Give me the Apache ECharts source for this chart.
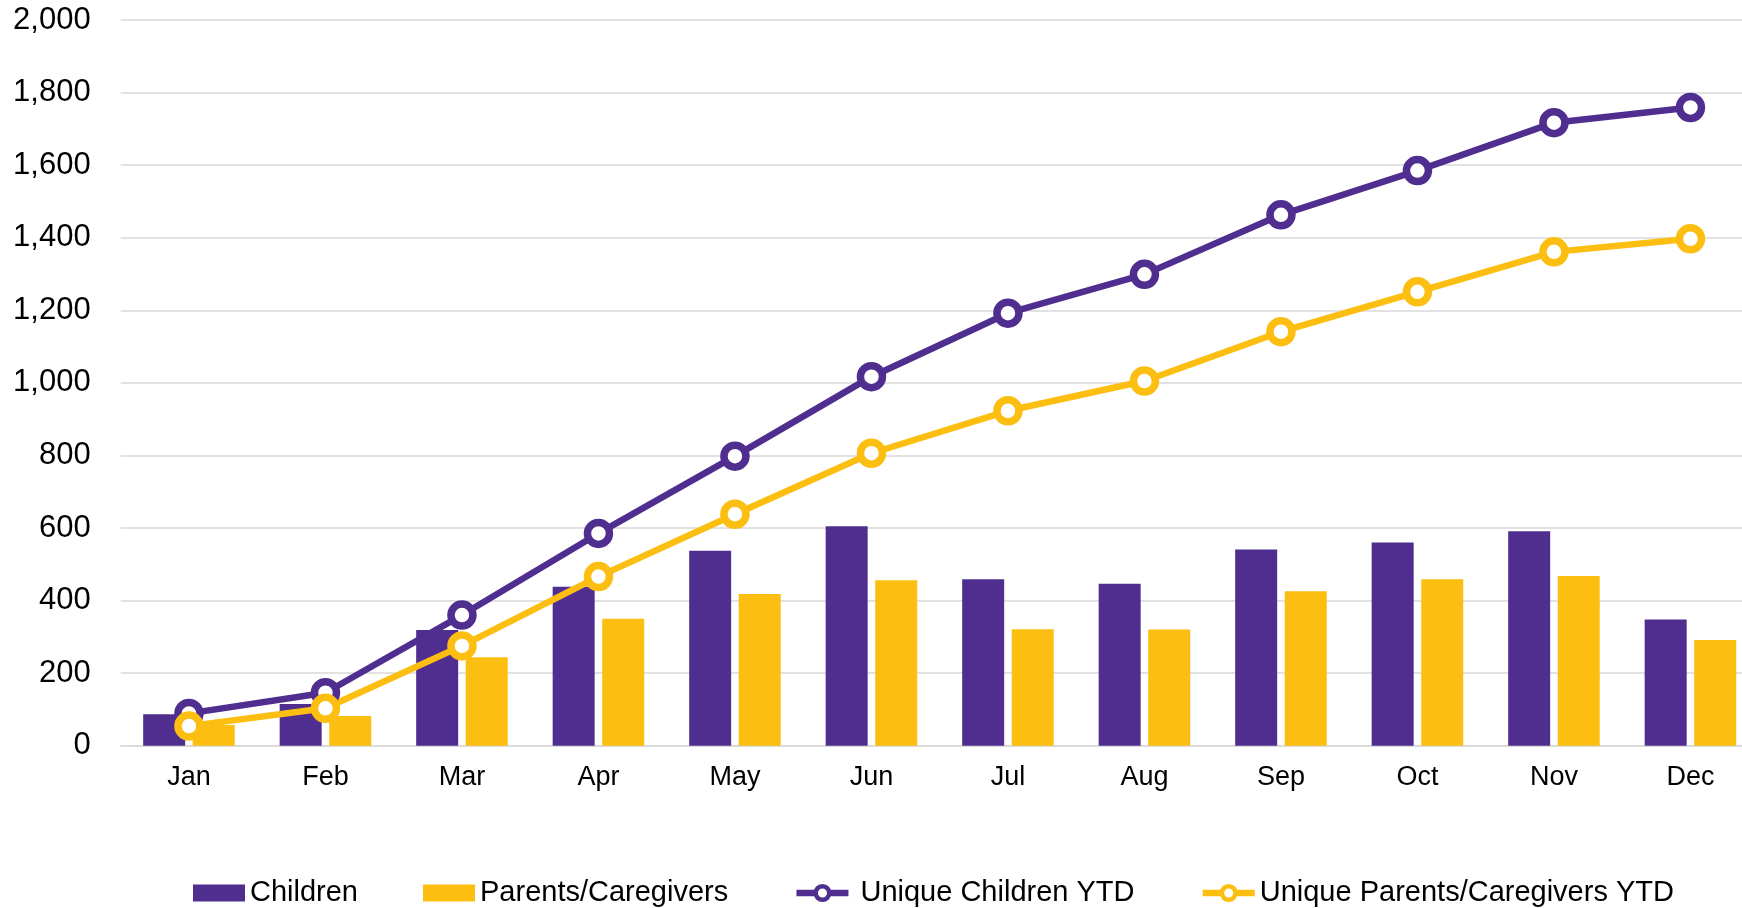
<!DOCTYPE html>
<html>
<head>
<meta charset="utf-8">
<script src="https://cdn.jsdelivr.net/npm/echarts@6/dist/echarts.min.js"></script>
<style>
html,body{margin:0;padding:0;background:#fff;}
#chart{width:1742px;height:908px;}
</style>
</head>
<body>
<div id="chart"></div>
<script>
const months = ['Jan','Feb','Mar','Apr','May','Jun','Jul','Aug','Sep','Oct','Nov','Dec'];
const children = [87, 115, 319, 438, 537, 605, 459, 446, 541, 560, 591, 348];
const parents = [57, 82, 244, 350, 418, 456, 321, 320, 426, 459, 468, 291];
const uniqueChildrenYTD = [89, 146, 360, 585, 798, 1017, 1192, 1299, 1463, 1585, 1717, 1759];
const uniqueParentsYTD = [54, 103, 275, 466, 638, 806, 923, 1005, 1141, 1251, 1361, 1397];
const yTicks = {min: 0, max: 2000, interval: 200};

const PURPLE = '#4F2E8F';
const YELLOW = '#FDBE12';
const FONT = 'Liberation Sans, Arial, sans-serif';

const chart = echarts.init(document.getElementById('chart'), null, {renderer: 'canvas'});
chart.setOption({
  animation: false,
  backgroundColor: '#fff',
  grid: {left: 120.7, top: 20, width: 1638, height: 725.7, containLabel: false, outerBoundsMode: 'none'},
  xAxis: {
    type: 'category',
    data: months,
    axisLine: {show: true, lineStyle: {color: '#d9d9d9', width: 1.5}},
    axisTick: {show: false},
    axisLabel: {color: '#000', fontSize: 27, fontFamily: FONT, margin: 18}
  },
  yAxis: {
    type: 'value',
    min: yTicks.min, max: yTicks.max, interval: yTicks.interval,
    axisLine: {show: false},
    axisTick: {show: false},
    splitLine: {lineStyle: {color: '#d9d9d9', width: 1.5}},
    axisLabel: {
      color: '#000', fontSize: 31, fontFamily: FONT, margin: 30,
      formatter: v => v.toLocaleString('en-US')
    }
  },
  legend: {
    left: 188, top: 873,
    itemWidth: 52, itemHeight: 17, itemGap: 65,
    textStyle: {color: '#000', fontSize: 29, fontFamily: FONT, lineHeight: 30},
    data: [
      {name: 'Children', icon: 'rect'},
      {name: 'Parents/Caregivers', icon: 'rect'},
      {name: 'Unique Children YTD', textStyle: {padding: [0, 0, 0, 7]},
       lineStyle: {width: 6.5}, itemStyle: {borderWidth: 4.5}},
      {name: 'Unique Parents/Caregivers YTD',
       lineStyle: {width: 6.5}, itemStyle: {borderWidth: 4.5}}
    ]
  },
  series: [
    {name: 'Children', type: 'bar', data: children, barWidth: 42, barGap: '18%',
     itemStyle: {color: PURPLE}, z: 2},
    {name: 'Parents/Caregivers', type: 'bar', data: parents, barWidth: 42,
     itemStyle: {color: YELLOW}, z: 2},
    {name: 'Unique Children YTD', type: 'line', data: uniqueChildrenYTD,
     symbol: 'circle', symbolSize: 22,
     lineStyle: {color: PURPLE, width: 6.5},
     itemStyle: {color: '#fff', borderColor: PURPLE, borderWidth: 7.5}, z: 5},
    {name: 'Unique Parents/Caregivers YTD', type: 'line', data: uniqueParentsYTD,
     symbol: 'circle', symbolSize: 22,
     lineStyle: {color: YELLOW, width: 6.5},
     itemStyle: {color: '#fff', borderColor: YELLOW, borderWidth: 7.5}, z: 5}
  ]
});
</script>
</body>
</html>
